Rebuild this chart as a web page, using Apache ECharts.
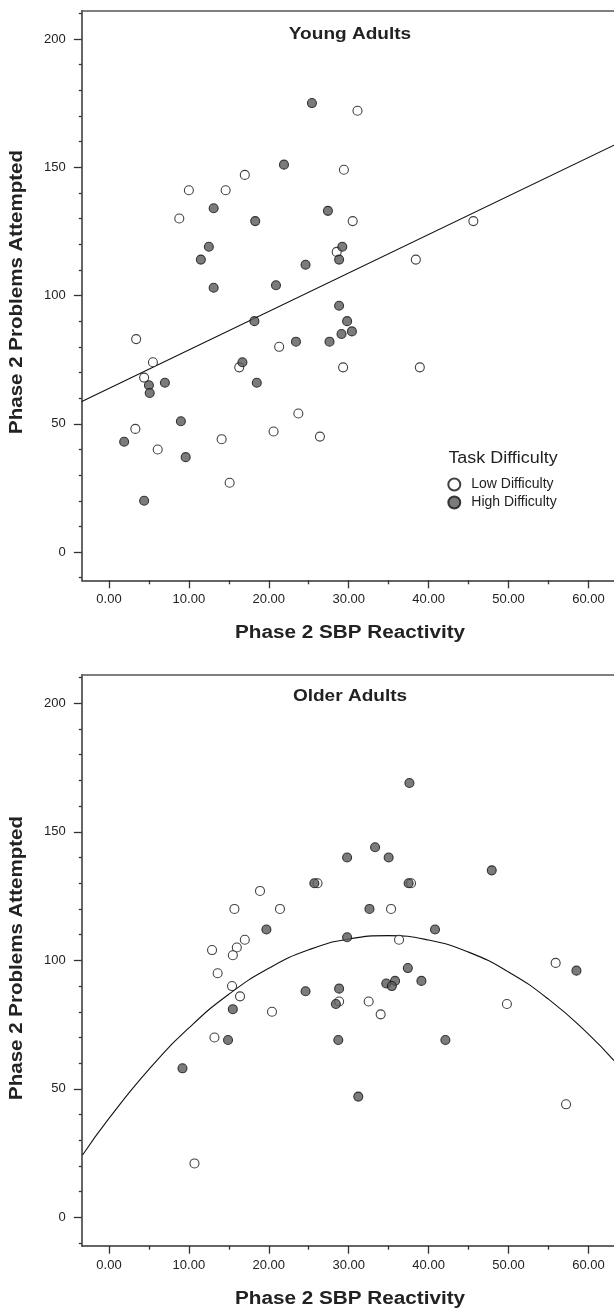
<!DOCTYPE html>
<html>
<head>
<meta charset="utf-8">
<script src="https://cdn.jsdelivr.net/npm/echarts@6/dist/echarts.min.js"></script>
<style>
html,body{margin:0;padding:0;background:#fff;}
#chart{width:614px;height:1310px;}
</style>
</head>
<body>
<div id="chart"></div>
<script>
// ---- tick labels ----
const xTicks = [0, 10, 20, 30, 40, 50, 60];
const xMinorTicks = [5, 15, 25, 35, 45, 55];
const yTicks = [0, 50, 100, 150, 200];
const yMinorTicks = [-10, 10, 20, 30, 40, 60, 70, 80, 90, 110, 120, 130, 140, 160, 170, 180, 190, 210];

// ---- Young adults ----
const youngLow = [[31.1,172],[29.4,149],[17.0,147],[10.0,141],[14.6,141],[8.8,130],[30.5,129],[45.6,129],[28.5,117],[38.4,114],[3.4,83],[21.3,80],[5.5,74],[16.3,72],[29.3,72],[38.9,72],[4.4,68],[23.7,54],[3.3,48],[20.6,47],[26.4,45],[14.1,44],[6.1,40],[15.1,27]];
const youngHigh = [[25.4,175],[21.9,151],[13.1,134],[27.4,133],[18.3,129],[12.5,119],[29.2,119],[11.5,114],[28.8,114],[24.6,112],[20.9,104],[13.1,103],[28.8,96],[18.2,90],[29.8,90],[29.1,85],[30.4,86],[23.4,82],[27.6,82],[16.7,74],[7.0,66],[5.0,65],[18.5,66],[5.1,62],[9.0,51],[1.9,43],[9.6,37],[4.4,20]];
const youngFit = [[-3.4,58.7],[63.2,158.6]];

// ---- Older adults ----
const olderLow = [[26.1,130],[37.8,130],[18.9,127],[15.7,120],[21.4,120],[35.3,120],[36.3,108],[17.0,108],[16.0,105],[12.9,104],[15.5,102],[55.9,99],[13.6,95],[15.4,90],[16.4,86],[28.8,84],[32.5,84],[34.0,79],[20.4,80],[49.8,83],[13.2,70],[57.2,44],[10.7,21]];
const olderHigh = [[37.6,169],[33.3,144],[29.8,140],[35.0,140],[47.9,135],[25.7,130],[37.5,130],[32.6,120],[19.7,112],[40.8,112],[29.8,109],[58.5,96],[37.4,97],[24.6,88],[28.8,89],[28.4,83],[34.7,91],[35.8,92],[35.4,90],[39.1,92],[15.5,81],[14.9,69],[28.7,69],[42.1,69],[9.2,58],[31.2,47]];
const olderFit = [[-3.3,24.3],[0,38.5],[5,57.6],[10,73.7],[15,86.8],[20,96.9],[25,104.1],[30,108.3],[35,109.6],[40,107.9],[45,103.2],[50,95.5],[55,84.9],[60,71.3],[63.2,61.0]];

const panelTitles = ['Young Adults', 'Older Adults'];
const seriesNames = ['Low Difficulty', 'High Difficulty'];
const legendTitle = 'Task Difficulty';
const xName = 'Phase 2 SBP Reactivity';
const yName = 'Phase 2 Problems Attempted';

const FONT = '"Liberation Sans", Arial, sans-serif';
const TXT = '#222';
const XMIN = -3.4, XMAX = 63.2, YMIN = -11, YMAX = 211;

const grids = [
  {left: 81.8, right: -3.4, top: 10.7, height: 569.6},
  {left: 81.8, right: -3.4, top: 675, height: 570.7}
];

const xAxes = [], yAxes = [];
grids.forEach((g, i) => {
  xAxes.push({
    type: 'value', gridIndex: i, min: XMIN, max: XMAX, position: 'bottom',
    axisLine: {show: true, onZero: false, lineStyle: {color: '#333', width: 1.5}},
    axisTick: {show: true, length: 8, customValues: xTicks, lineStyle: {color: '#333', width: 1.3}},
    axisLabel: {show: true, customValues: xTicks, margin: 13, fontFamily: FONT, fontSize: 13, color: TXT,
      formatter: v => v.toFixed(2)},
    splitLine: {show: false}
  });
  xAxes.push({
    type: 'value', gridIndex: i, min: XMIN, max: XMAX, position: 'bottom',
    axisLine: {show: false, onZero: false},
    axisTick: {show: true, length: 4, customValues: xMinorTicks, lineStyle: {color: '#333', width: 1.3}},
    axisLabel: {show: false}, splitLine: {show: false}
  });
  xAxes.push({
    type: 'value', gridIndex: i, min: XMIN, max: XMAX, position: 'top',
    axisLine: {show: true, onZero: false, lineStyle: {color: '#555', width: 1.5}},
    axisTick: {show: false}, axisLabel: {show: false}, splitLine: {show: false}
  });
  yAxes.push({
    type: 'value', gridIndex: i, min: YMIN, max: YMAX, position: 'left',
    axisLine: {show: true, onZero: false, lineStyle: {color: '#333', width: 1.5}},
    axisTick: {show: true, length: 8, customValues: yTicks, lineStyle: {color: '#333', width: 1.3}},
    axisLabel: {show: true, customValues: yTicks, margin: 16, fontFamily: FONT, fontSize: 13, color: TXT},
    splitLine: {show: false}
  });
  yAxes.push({
    type: 'value', gridIndex: i, min: YMIN, max: YMAX, position: 'left',
    axisLine: {show: false, onZero: false},
    axisTick: {show: true, length: 3, customValues: yMinorTicks, lineStyle: {color: '#333', width: 1.3}},
    axisLabel: {show: false}, splitLine: {show: false}
  });
});

const lowStyle = {color: '#ffffff', borderColor: '#111', borderWidth: 1.1};
const highStyle = {color: '#5a5a5a', borderColor: '#111', borderWidth: 1.1};

function scatter(name, data, gi, style) {
  return {
    type: 'scatter', name, data, xAxisIndex: gi * 3, yAxisIndex: gi * 2,
    symbol: 'circle', symbolSize: 9, itemStyle: style, emphasis: {disabled: true}, z: 3
  };
}
function fitLine(data, gi, smooth) {
  return {
    type: 'line', data, xAxisIndex: gi * 3, yAxisIndex: gi * 2, smooth,
    showSymbol: false, symbol: 'none', clip: true,
    lineStyle: {color: '#111', width: 1.1}, z: 2, silent: true
  };
}
function label(text, x, y, size, bold, sx, rot) {
  return {type: 'text', x, y, rotation: rot || 0, scaleX: sx, scaleY: 1,
    style: {text, fontFamily: FONT, fontSize: size, fontWeight: bold ? 'bold' : 'normal', fill: TXT,
      align: 'center', verticalAlign: 'middle'}};
}

const option = {
  animation: false,
  backgroundColor: '#fff',
  grid: grids.map(g => Object.assign({show: false, containLabel: false}, g)),
  xAxis: xAxes,
  yAxis: yAxes,
  legend: {
    show: true, orient: 'vertical', left: 447.3, top: 477.5,
    itemWidth: 12, itemHeight: 12, itemGap: 4, padding: 0,
    icon: 'circle',
    data: seriesNames,
    textStyle: {fontFamily: FONT, fontSize: 14, color: TXT, padding: [0, 0, 0, 6]},
    selectedMode: false
  },
  graphic: [
    label(panelTitles[0], 350, 34, 17, true, 1.12),
    label(panelTitles[1], 350, 696, 17, true, 1.12),
    label(legendTitle, 503, 459, 16, false, 1.12),
    label(xName, 350, 633, 18, true, 1.15),
    label(xName, 350, 1299, 18, true, 1.15),
    label(yName, 17, 292, 18, true, 1.14, Math.PI / 2),
    label(yName, 17, 958, 18, true, 1.14, Math.PI / 2)
  ],
  series: [
    fitLine(youngFit, 0, false),
    scatter(seriesNames[0], youngLow, 0, lowStyle),
    scatter(seriesNames[1], youngHigh, 0, highStyle),
    fitLine(olderFit, 1, true),
    scatter(seriesNames[0], olderLow, 1, lowStyle),
    scatter(seriesNames[1], olderHigh, 1, highStyle)
  ]
};

const chart = echarts.init(document.getElementById('chart'), null, {renderer: 'canvas', width: 614, height: 1310});
chart.setOption(option);
</script>
</body>
</html>
